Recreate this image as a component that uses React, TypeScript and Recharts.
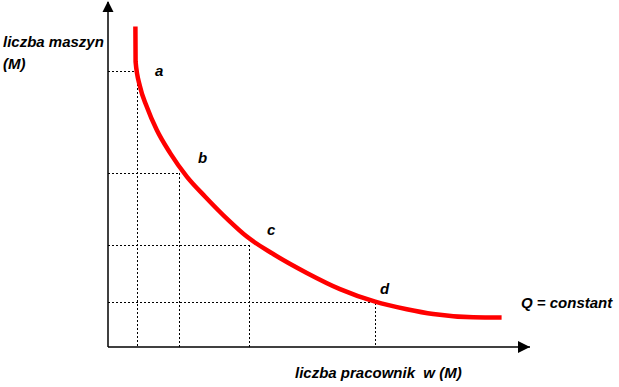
import { LineChart, Line, XAxis, YAxis, ReferenceLine, ReferenceDot } from 'recharts'

// isoquant Q = constant (arbitrary units)
const workers = [6.85, 6.9, 8, 9.7, 12.2, 15.5, 19.7, 24.3, 30.1, 34.7, 41.3, 49.7, 58, 66.8, 74.7, 81.3, 91.3, 98.4]
const machines = [106.8, 95.1, 86.8, 80.1, 72.3, 64.7, 56.8, 50.1, 42.3, 36.8, 31, 24.7, 19.3, 15.1, 12.6, 11, 9.9, 9.8]

// marked points a, b, c, d
const pointNames = ['a', 'b', 'c', 'd']
const pointWorkers = [7.25, 17.75, 35.3, 66.75]
const pointMachines = [91.7, 58, 34, 14.8]

const X_MAX = 105.5
const Y_MAX = 115

const data = workers.map((w, i) => ({ x: w, y: machines[i] }))

const font = {
  fontFamily: '"Liberation Sans", Arial, sans-serif',
  fontWeight: 700,
  fontStyle: 'italic',
  fontSize: 15,
  lineHeight: '15px',
  color: '#000',
  whiteSpace: 'pre' as const,
  position: 'absolute' as const,
}

// label offsets next to each marked point
const letterPos = [
  { left: 155, top: 63 },
  { left: 198, top: 150 },
  { left: 267, top: 222 },
  { left: 380, top: 281 },
]

const UpArrow = ({ cx, cy }: any) => (
  <polygon points={`${cx},${cy - 1} ${cx - 5.5},${cy + 10} ${cx + 5.5},${cy + 10}`} fill="#000" />
)

const RightArrow = ({ cx, cy }: any) => (
  <polygon points={`${cx},${cy} ${cx - 12},${cy - 6} ${cx - 12},${cy + 6}`} fill="#000" />
)

export default function App() {
  return (
    <div style={{ position: 'absolute', left: 0, top: 0, width: 619, height: 387, background: '#fff' }}>
      <LineChart width={619} height={387} data={data} margin={{ top: 2, right: 89, bottom: 40, left: 108 }}>
        <XAxis type="number" dataKey="x" domain={[0, X_MAX]} hide />
        <YAxis type="number" domain={[0, Y_MAX]} hide />

        {pointNames.map((n, i) => (
          <ReferenceLine
            key={'h' + n}
            segment={[{ x: 0, y: pointMachines[i] }, { x: pointWorkers[i], y: pointMachines[i] }]}
            stroke="#000"
            strokeWidth={1}
            strokeDasharray="2 2"
            shapeRendering="crispEdges"
          />
        ))}
        {pointNames.map((n, i) => (
          <ReferenceLine
            key={'v' + n}
            segment={[{ x: pointWorkers[i], y: pointMachines[i] }, { x: pointWorkers[i], y: 0 }]}
            stroke="#000"
            strokeWidth={1}
            strokeDasharray="2 2"
            shapeRendering="crispEdges"
          />
        ))}

        <ReferenceLine x={0} stroke="#000" strokeWidth={1.5} />
        <ReferenceLine y={0} stroke="#000" strokeWidth={1.5} />
        <ReferenceDot x={0} y={Y_MAX} r={6} ifOverflow="visible" shape={UpArrow} />
        <ReferenceDot x={X_MAX} y={0} r={6} ifOverflow="visible" shape={RightArrow} />

        <Line
          type="monotone"
          dataKey="y"
          stroke="#ff0000"
          strokeWidth={4.5}
          dot={false}
          activeDot={false}
          isAnimationActive={false}
        />
      </LineChart>

      <div style={{ ...font, left: 3, top: 34 }}>liczba maszyn</div>
      <div style={{ ...font, left: 3, top: 56 }}>(M)</div>
      {pointNames.map((n, i) => (
        <div key={n} style={{ ...font, ...letterPos[i] }}>{n}</div>
      ))}
      <div style={{ ...font, left: 521, top: 295 }}>Q = constant</div>
      <div style={{ ...font, left: 295, top: 365 }}>liczba pracownik  w (M)</div>
    </div>
  )
}
